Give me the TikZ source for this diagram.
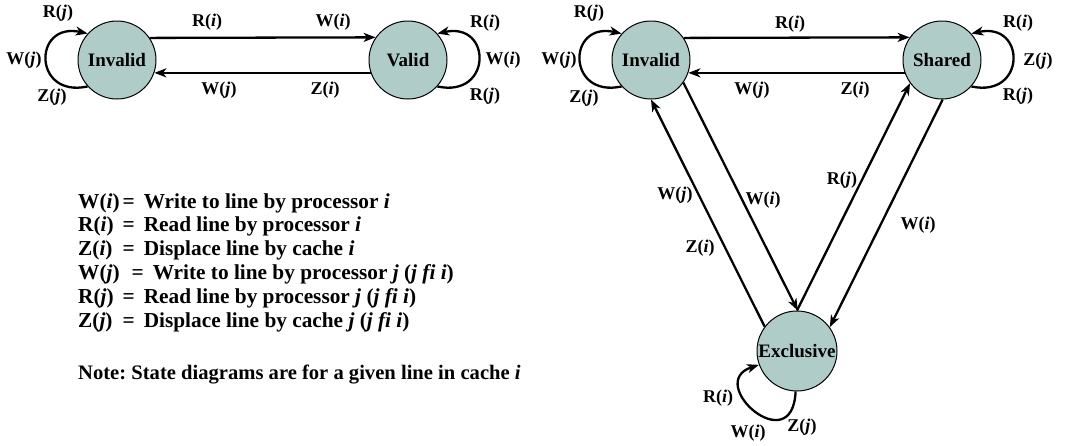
\documentclass[tikz,border=0pt]{standalone}
\usepackage{fontspec}
\setmainfont{Liberation Serif}
\usetikzlibrary{arrows.meta,calc}
\definecolor{statefill}{RGB}{176,204,200}
\tikzset{
  state/.style={circle,draw=black,line width=1pt,fill=statefill,minimum size=78pt,inner sep=0pt,font=\fontsize{19}{21}\selectfont\bfseries},
  bigstate/.style={minimum size=80pt},
  tr/.style={line width=2.3pt,-{Stealth[length=12pt,width=9pt,inset=3.5pt]}},
  lbl/.style={font=\fontsize{18}{20}\selectfont\bfseries,inner sep=0pt},
  legendtext/.style={font=\fontsize{21.3}{23.8}\selectfont\bfseries\frenchspacing,inner sep=0pt},
  notetext/.style={font=\fontsize{20.6}{23.8}\selectfont\bfseries\frenchspacing,inner sep=0pt}
}
\begin{document}
\begin{tikzpicture}[x=1pt,y=1pt]
\useasboundingbox (0,0) rectangle (1066,-445);
% ---------- left diagram ----------
\node[state] (I1) at (117,-60) {Invalid};
\node[state] (V) at (408,-60) {Valid};
\draw[tr] (I1.34.3) -- (V.145.7);
\draw[tr] (V.199.5) -- (I1.-19.5);
\draw[tr] (I1.222) .. controls +(-55,-12) and +(-55,12) .. (I1.138);
\draw[tr] (V.-42) .. controls +(55,-12) and +(55,12) .. (V.42);
\node[lbl] (a1) at (207,-22) {R(\textit{i})};
\node[lbl] (a2) at (333,-22) {W(\textit{i})};
\node[lbl] (a3) at (219,-90) {W(\textit{j})};
\node[lbl] (a4) at (325,-90) {Z(\textit{i})};
\node[lbl] (a5) at (58,-13) {R(\textit{j})};
\node[lbl] (a6) at (24,-60) {W(\textit{j})};
\node[lbl] (a7) at (52,-97) {Z(\textit{j})};
\node[lbl] (a8) at (485,-23) {R(\textit{i})};
\node[lbl] (a9) at (503,-60) {W(\textit{i})};
\node[lbl] (a10) at (485,-96) {R(\textit{j})};
% ---------- right diagram ----------
\node[state] (I2) at (651,-60) {Invalid};
\node[state] (S) at (942,-60) {Shared};
\node[state,bigstate] (E) at (797,-351) {Exclusive};
\draw[tr] (I2.34.3) -- (S.145.7);
\draw[tr] (S.199.5) -- (I2.-19.5);
\draw[tr] (I2.222) .. controls +(-55,-12) and +(-55,12) .. (I2.138);
\draw[tr] (S.-42) .. controls +(55,-12) and +(55,12) .. (S.42);
\draw[tr] (E.143.3) -- (I2.-90.9);
\draw[tr] (I2.-35.9) -- (E.89.9);
\draw[tr] (E.90.2) -- (S.216);
\draw[tr] (S.271) -- (E.36.8);
\draw[tr] (E.268) .. controls +(-3,-70) and +(-55,-18) .. (E.200);
\node[lbl] (b1) at (790,-24) {R(\textit{i})};
\node[lbl] (b2) at (752,-90) {W(\textit{j})};
\node[lbl] (b3) at (855,-90) {Z(\textit{i})};
\node[lbl] (b4) at (589,-13) {R(\textit{j})};
\node[lbl] (b5) at (559,-60) {W(\textit{j})};
\node[lbl] (b6) at (584,-98) {Z(\textit{j})};
\node[lbl] (b7) at (1018,-23) {R(\textit{i})};
\node[lbl] (b8) at (1038,-61) {Z(\textit{j})};
\node[lbl] (b9) at (1018,-96) {R(\textit{j})};
\node[lbl] (b10) at (675,-195) {W(\textit{j})};
\node[lbl] (b11) at (700,-248) {Z(\textit{i})};
\node[lbl] (b12) at (763,-200) {W(\textit{i})};
\node[lbl] (b13) at (842,-180) {R(\textit{j})};
\node[lbl] (b14) at (918,-225) {W(\textit{i})};
\node[lbl] (b15) at (718,-398) {R(\textit{i})};
\node[lbl] (b16) at (748,-433) {W(\textit{i})};
\node[lbl] (b17) at (802,-427) {Z(\textit{j})};
% ---------- legend ----------
\node[legendtext,anchor=base west] (leg) at (78,-208) {%
\begin{tabular}[t]{@{}l@{\hspace{3pt}}r@{\hspace{9pt}}l@{}}
W(\textit{i}) & = & Write to line by processor \textit{i}\\
R(\textit{i}) & = & Read line by processor \textit{i}\\
Z(\textit{i}) & = & Displace line by cache \textit{i}\\
W(\textit{j}) & \multicolumn{2}{l}{\hspace{3pt}=\hspace{9pt}Write to line by processor \textit{j} (\textit{j fi i})}\\
R(\textit{j}) & = & Read line by processor \textit{j} (\textit{j fi i})\\
Z(\textit{j}) & = & Displace line by cache \textit{j} (\textit{j fi i})
\end{tabular}};
\node[notetext,anchor=base west] (note) at (78,-379) {Note: State diagrams are for a given line in cache \textit{i}};
\end{tikzpicture}
\end{document}
